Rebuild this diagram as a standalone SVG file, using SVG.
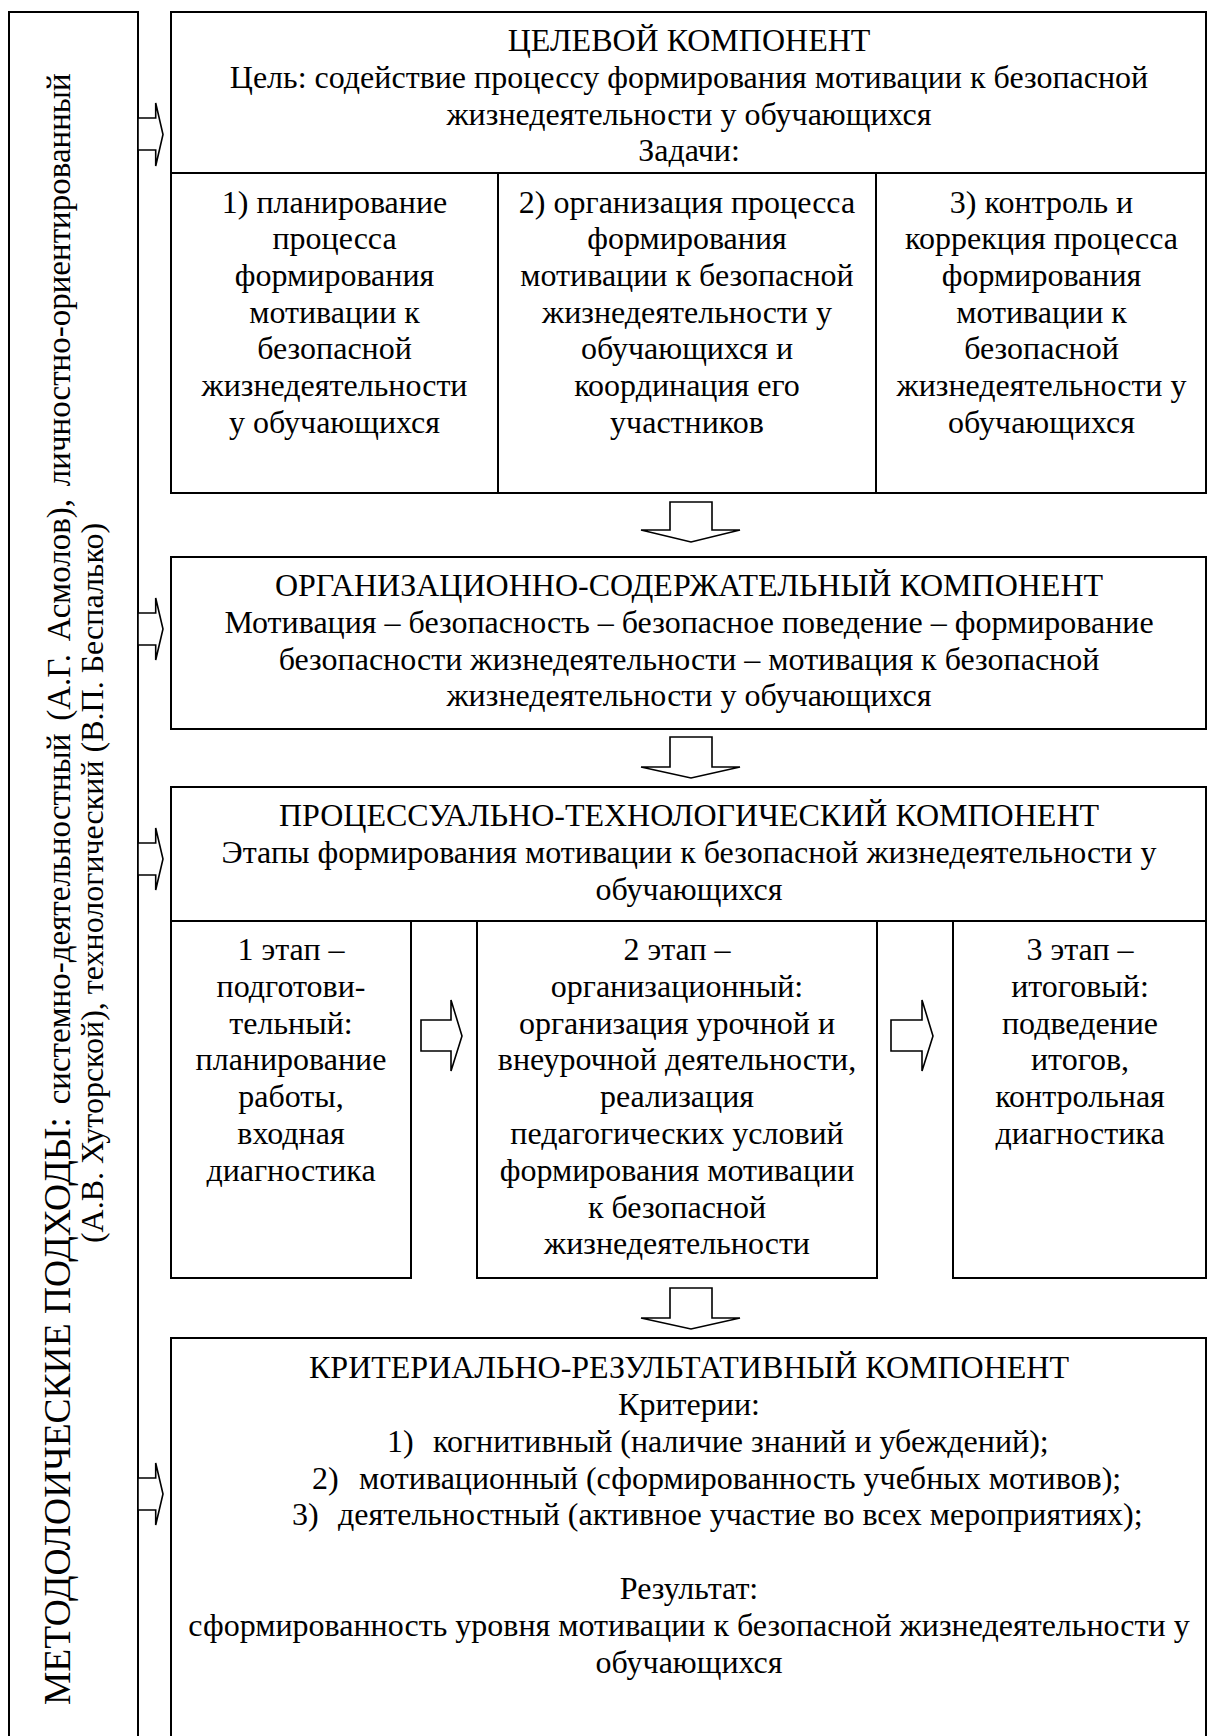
<svg xmlns="http://www.w3.org/2000/svg" width="1209" height="1736" viewBox="0 0 1209 1736">
<style>
.b{fill:#fff;stroke:#000;stroke-width:2}
.l{fill:none;stroke:#000;stroke-width:2}
.a{fill:#fff;stroke:#000;stroke-width:1.6;stroke-linejoin:miter}
text{font-family:"Liberation Serif","Times New Roman",serif;font-size:32px;fill:#000}
.c{text-anchor:middle}
</style>
<rect width="1209" height="1736" fill="#fff"/>
<g id="approaches">
<rect class="b" x="9" y="12" width="129" height="1740"/>
<text transform="translate(70,1705) rotate(-90)"><tspan font-size="37.5">МЕТОДОЛОИЧЕСКИЕ ПОДХОДЫ:</tspan><tspan font-size="33" word-spacing="4.5"> системно-деятельностный (А.Г. Асмолов), личностно-ориентированный</tspan></text>
<text class="c" transform="translate(103,883) rotate(-90)">(А.В. Хуторской), технологический (В.П. Беспалько)</text>
</g>
<g id="target">
<rect class="b" x="171" y="12" width="1035" height="481"/>
<line class="l" x1="171" y1="173" x2="1206" y2="173"/>
<line class="l" x1="498" y1="173" x2="498" y2="493"/>
<line class="l" x1="876" y1="173" x2="876" y2="493"/>
<text class="c" x="689" y="51">ЦЕЛЕВОЙ КОМПОНЕНТ</text>
<text class="c" x="689" y="88">Цель: содействие процессу формирования мотивации к безопасной</text>
<text class="c" x="689" y="124.5">жизнедеятельности у обучающихся</text>
<text class="c" x="689" y="161">Задачи:</text>
<text class="c" x="334.5" y="212.5">1) планирование<tspan x="334.5" dy="36.7">процесса</tspan><tspan x="334.5" dy="36.7">формирования</tspan><tspan x="334.5" dy="36.7">мотивации к</tspan><tspan x="334.5" dy="36.7">безопасной</tspan><tspan x="334.5" dy="36.7">жизнедеятельности</tspan><tspan x="334.5" dy="36.7">у обучающихся</tspan></text>
<text class="c" x="687" y="212.5">2) организация процесса<tspan x="687" dy="36.7">формирования</tspan><tspan x="687" dy="36.7">мотивации к безопасной</tspan><tspan x="687" dy="36.7">жизнедеятельности у</tspan><tspan x="687" dy="36.7">обучающихся и</tspan><tspan x="687" dy="36.7">координация его</tspan><tspan x="687" dy="36.7">участников</tspan></text>
<text class="c" x="1041.5" y="212.5">3) контроль и<tspan x="1041.5" dy="36.7">коррекция процесса</tspan><tspan x="1041.5" dy="36.7">формирования</tspan><tspan x="1041.5" dy="36.7">мотивации к</tspan><tspan x="1041.5" dy="36.7">безопасной</tspan><tspan x="1041.5" dy="36.7">жизнедеятельности у</tspan><tspan x="1041.5" dy="36.7">обучающихся</tspan></text>
</g>
<g id="organizational">
<rect class="b" x="171" y="557" width="1035" height="172"/>
<text class="c" x="689" y="596">ОРГАНИЗАЦИОННО-СОДЕРЖАТЕЛЬНЫЙ КОМПОНЕНТ<tspan x="689" dy="36.8">Мотивация – безопасность – безопасное поведение – формирование</tspan><tspan x="689" dy="36.8">безопасности жизнедеятельности – мотивация к безопасной</tspan><tspan x="689" dy="36.8">жизнедеятельности у обучающихся</tspan></text>
</g>
<g id="process">
<rect class="b" x="171" y="787" width="1035" height="134"/>
<text class="c" x="689" y="826">ПРОЦЕССУАЛЬНО-ТЕХНОЛОГИЧЕСКИЙ КОМПОНЕНТ<tspan x="689" dy="36.8">Этапы формирования мотивации к безопасной жизнедеятельности у</tspan><tspan x="689" dy="36.8">обучающихся</tspan></text>
</g>
<g id="stage1">
<rect class="b" x="171" y="921" width="240" height="357"/>
<text class="c" x="291" y="960">1 этап –<tspan x="291" dy="36.8">подготови-</tspan><tspan x="291" dy="36.8">тельный:</tspan><tspan x="291" dy="36.8">планирование</tspan><tspan x="291" dy="36.8">работы,</tspan><tspan x="291" dy="36.8">входная</tspan><tspan x="291" dy="36.8">диагностика</tspan></text>
</g>
<g id="stage2">
<rect class="b" x="477" y="921" width="400" height="357"/>
<text class="c" x="677" y="960">2 этап –<tspan x="677" dy="36.8">организационный:</tspan><tspan x="677" dy="36.8">организация урочной и</tspan><tspan x="677" dy="36.8">внеурочной деятельности,</tspan><tspan x="677" dy="36.8">реализация</tspan><tspan x="677" dy="36.8">педагогических условий</tspan><tspan x="677" dy="36.8">формирования мотивации</tspan><tspan x="677" dy="36.8">к безопасной</tspan><tspan x="677" dy="36.8">жизнедеятельности</tspan></text>
</g>
<g id="stage3">
<rect class="b" x="953" y="921" width="253" height="357"/>
<text class="c" x="1080" y="960">3 этап –<tspan x="1080" dy="36.8">итоговый:</tspan><tspan x="1080" dy="36.8">подведение</tspan><tspan x="1080" dy="36.8">итогов,</tspan><tspan x="1080" dy="36.8">контрольная</tspan><tspan x="1080" dy="36.8">диагностика</tspan></text>
</g>
<g id="criteria">
<rect class="b" x="171" y="1338" width="1035" height="420"/>
<text class="c" x="689" y="1378">КРИТЕРИАЛЬНО-РЕЗУЛЬТАТИВНЫЙ КОМПОНЕНТ</text>
<text class="c" x="689" y="1415">Критерии:</text>
<text x="387" y="1451.7">1)</text><text x="433" y="1451.7">когнитивный (наличие знаний и убеждений);</text>
<text x="312" y="1488.5">2)</text><text x="359" y="1488.5">мотивационный (сформированность учебных мотивов);</text>
<text x="292" y="1525.3">3)</text><text x="338" y="1525.3">деятельностный (активное участие во всех мероприятиях);</text>
<text class="c" x="689" y="1598.9">Результат:</text>
<text class="c" x="689" y="1635.7">сформированность уровня мотивации к безопасной жизнедеятельности у</text>
<text class="c" x="689" y="1672.5">обучающихся</text>
</g>
<g id="connectors">
<polygon class="a" points="138,118 155.7,118 155.7,103 163,134.5 155.7,166 155.7,150 138,150"/>
<polygon class="a" points="138,613 155.7,613 155.7,598 163,629 155.7,660 155.7,645 138,645"/>
<polygon class="a" points="138,843 155.7,843 155.7,828 163,859 155.7,890 155.7,875 138,875"/>
<polygon class="a" points="138,1478 155.7,1478 155.7,1463 163,1494 155.7,1525 155.7,1510 138,1510"/>
<polygon class="a" points="670,502 712,502 712,530 740,530 691,542 641,530 670,530"/>
<polygon class="a" points="670,737 712,737 712,767 740,767 691,778 641,767 670,767"/>
<polygon class="a" points="670,1288 712,1288 712,1318 740,1318 691,1329 641,1318 670,1318"/>
<polygon class="a" points="421,1020 451,1020 451,1000 462,1036 451,1071 451,1051 421,1051"/>
<polygon class="a" points="891,1020 922,1020 922,1000 933,1036 922,1071 922,1051 891,1051"/>
</g>
</svg>
